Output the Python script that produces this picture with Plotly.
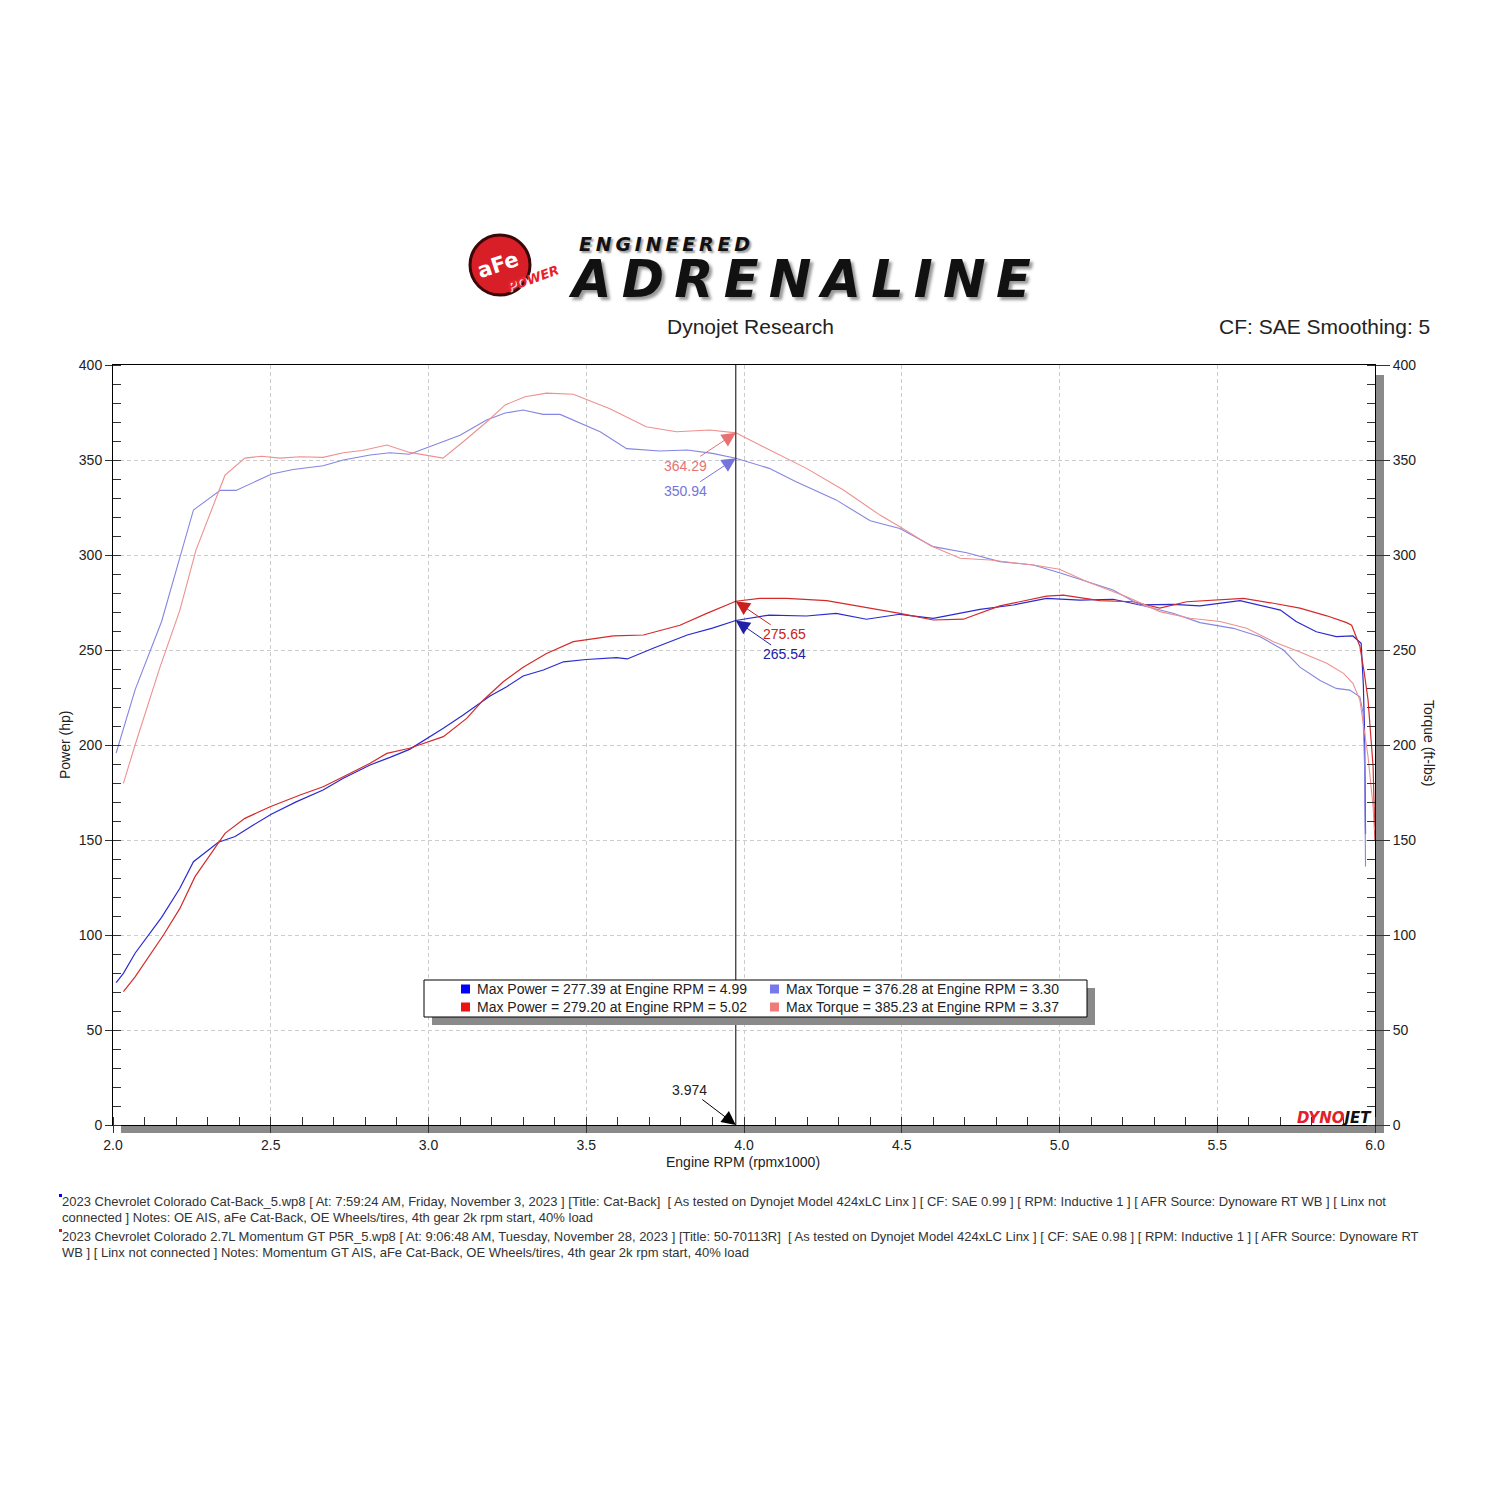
import plotly.graph_objects as go

# ---------- data ----------
# run 1 : Cat-Back (blue)
catback_power_rpm = [2.01, 2.033, 2.07, 2.154, 2.212, 2.255, 2.334, 2.387, 2.445, 2.503, 2.582, 2.666,
                     2.73, 2.815, 2.878, 2.94, 3.047, 3.11, 3.195, 3.248, 3.30, 3.364, 3.428, 3.50,
                     3.596, 3.63, 3.712, 3.82, 3.90, 3.974, 4.08, 4.198, 4.292, 4.388, 4.494, 4.60,
                     4.748, 4.854, 4.959, 5.065, 5.17, 5.255, 5.36, 5.445, 5.572, 5.70, 5.75, 5.814,
                     5.877, 5.93, 5.956, 5.963, 5.967, 5.969, 5.970]
catback_power = [74.9, 79.8, 90.4, 109.3, 124.6, 138.6, 148.8, 151.8, 157.9, 163.7, 170.2, 176.3,
                 182.5, 189.5, 193.5, 197.7, 208.8, 215.8, 225.8, 230.7, 236.3, 239.5, 243.8, 245.0,
                 246.0, 245.3, 250.9, 257.9, 261.5, 265.54, 268.4, 267.9, 269.3, 266.2, 268.8, 266.7,
                 271.4, 273.7, 277.2, 276.3, 276.7, 273.7, 274.0, 273.2, 276.0, 271.0, 265.0, 259.6,
                 257.0, 257.4, 253.5, 232.0, 206.0, 175.0, 153.0]

catback_torque_rpm = [2.01, 2.07, 2.154, 2.255, 2.34, 2.39, 2.503, 2.571, 2.666, 2.73, 2.815, 2.878,
                      2.94, 3.046, 3.10, 3.184, 3.243, 3.30, 3.363, 3.417, 3.544, 3.628, 3.734, 3.82,
                      3.90, 3.974, 4.08, 4.165, 4.292, 4.40, 4.494, 4.60, 4.706, 4.811, 4.917, 5.0,
                      5.086, 5.17, 5.255, 5.36, 5.445, 5.551, 5.636, 5.71, 5.762, 5.826, 5.877, 5.92,
                      5.952, 5.962, 5.967, 5.970]
catback_torque = [195.8, 229.0, 265.0, 323.7, 334.0, 334.0, 342.6, 345.0, 347.0, 350.0, 352.6, 353.8,
                  353.0, 359.6, 363.0, 371.0, 374.7, 376.3, 374.0, 374.0, 364.9, 356.0, 354.7, 355.3,
                  353.5, 350.94, 345.6, 338.6, 329.0, 318.0, 314.0, 304.4, 301.2, 296.5, 294.7, 290.7,
                  286.0, 281.6, 273.7, 269.3, 264.4, 261.4, 257.0, 250.0, 241.0, 234.0, 229.8, 228.9,
                  225.4, 217.0, 188.6, 136.0]

# run 2 : Momentum GT intake (red)
momentum_power_rpm = [2.033, 2.07, 2.16, 2.212, 2.26, 2.355, 2.418, 2.498, 2.593, 2.666, 2.73, 2.815,
                      2.868, 2.94, 3.047, 3.121, 3.174, 3.237, 3.30, 3.374, 3.459, 3.586, 3.681, 3.797,
                      3.882, 3.974, 4.05, 4.135, 4.262, 4.378, 4.494, 4.60, 4.695, 4.811, 4.959, 5.012,
                      5.128, 5.234, 5.318, 5.403, 5.509, 5.583, 5.678, 5.762, 5.847, 5.91, 5.926, 5.952,
                      5.966, 5.978, 5.994, 6.0]
momentum_power = [70.2, 78.0, 100.0, 114.0, 130.7, 153.5, 161.4, 167.5, 173.7, 178.0, 183.3, 190.4,
                  195.6, 198.3, 204.4, 214.0, 223.7, 233.3, 240.9, 248.2, 254.4, 257.4, 257.9, 263.0,
                  269.3, 275.65, 277.2, 277.2, 276.0, 272.8, 269.3, 265.8, 266.2, 273.2, 278.4, 278.9,
                  276.0, 275.4, 272.0, 275.4, 276.3, 277.2, 274.6, 272.0, 268.0, 264.4, 263.0, 252.0,
                  238.0, 223.7, 188.6, 150.0]

momentum_torque_rpm = [2.033, 2.07, 2.149, 2.212, 2.263, 2.355, 2.418, 2.471, 2.53, 2.593, 2.666, 2.73,
                       2.79, 2.868, 2.94, 3.046, 3.11, 3.184, 3.243, 3.306, 3.374, 3.459, 3.575, 3.69,
                       3.786, 3.892, 3.974, 4.093, 4.198, 4.315, 4.431, 4.494, 4.59, 4.685, 4.78, 4.917,
                       5.0, 5.086, 5.213, 5.318, 5.414, 5.509, 5.593, 5.678, 5.762, 5.847, 5.90, 5.93,
                       5.952, 5.978, 5.994, 5.998]
momentum_torque = [179.8, 200.0, 241.0, 271.0, 302.6, 342.0, 351.0, 352.0, 351.0, 351.7, 351.4, 353.8,
                   355.0, 357.9, 354.0, 351.0, 359.6, 370.0, 379.0, 383.3, 385.2, 384.6, 377.0, 367.5,
                   364.9, 365.8, 364.29, 354.4, 345.6, 334.2, 321.0, 314.9, 305.0, 298.3, 297.4, 294.7,
                   292.5, 286.0, 278.0, 270.2, 266.7, 265.0, 261.4, 254.4, 249.0, 243.0, 237.7, 232.5,
                   223.7, 193.8, 167.5, 155.0]

cursor_rpm = 3.974
cursor_values = [364.29, 350.94, 275.65, 265.54]

legend_labels = ["Max Power = 277.39 at Engine RPM = 4.99",
                 "Max Torque = 376.28 at Engine RPM = 3.30",
                 "Max Power = 279.20 at Engine RPM = 5.02",
                 "Max Torque = 385.23 at Engine RPM = 3.37"]

footer_lines = [
    "2023 Chevrolet Colorado Cat-Back_5.wp8 [ At: 7:59:24 AM, Friday, November 3, 2023 ] [Title: Cat-Back]  [ As tested on Dynojet Model 424xLC Linx ] [ CF: SAE 0.99 ] [ RPM: Inductive 1 ] [ AFR Source: Dynoware RT WB ] [ Linx not",
    "connected ] Notes: OE AIS, aFe Cat-Back, OE Wheels/tires, 4th gear 2k rpm start, 40% load",
    "2023 Chevrolet Colorado 2.7L Momentum GT P5R_5.wp8 [ At: 9:06:48 AM, Tuesday, November 28, 2023 ] [Title: 50-70113R]  [ As tested on Dynojet Model 424xLC Linx ] [ CF: SAE 0.98 ] [ RPM: Inductive 1 ] [ AFR Source: Dynoware RT",
    "WB ] [ Linx not connected ] Notes: Momentum GT AIS, aFe Cat-Back, OE Wheels/tires, 4th gear 2k rpm start, 40% load",
]
footer_y = [1201, 1217, 1236, 1252]

BLUE = '#0000ff'
BLUE_L = '#7777ee'
RED = '#ee1111'
RED_L = '#f07a7a'
FONT = 'Liberation Sans, Arial, sans-serif'

# plot box in page pixels; the page body adds an 8px margin, so the figure is pulled back by it
L, R, T, B = 113, 1375, 365, 1125
PAGE_PAD = 8


def px(x):
    return (x - L) / (R - L)


def py(y):
    return (B - y) / (B - T)


def label(x, y, text, size=14, color='#222', xanchor='center', angle=0, family=FONT, **kw):
    return dict(x=px(x), y=py(y), xref='paper', yref='paper', text=text, showarrow=False,
                xanchor=xanchor, yanchor='middle', textangle=angle, borderpad=0,
                font=dict(family=family, size=size, color=color, **kw))


traces = [
    go.Scatter(x=catback_torque_rpm, y=catback_torque, yaxis='y2', mode='lines',
               line=dict(color='#8585e2', width=1.1), hoverinfo='skip'),
    go.Scatter(x=momentum_torque_rpm, y=momentum_torque, yaxis='y2', mode='lines',
               line=dict(color='#ee9090', width=1.1), hoverinfo='skip'),
    go.Scatter(x=catback_power_rpm, y=catback_power, mode='lines',
               line=dict(color='#2a2ad0', width=1.2), hoverinfo='skip'),
    go.Scatter(x=momentum_power_rpm, y=momentum_power, mode='lines',
               line=dict(color='#d42a2a', width=1.2), hoverinfo='skip'),
]

shapes = []
annotations = []

# drop shadows of the plot frame
shapes.append(dict(type='rect', xref='paper', yref='paper', x0=px(1376), x1=px(1384),
                   y0=py(1133), y1=py(375), fillcolor='#8a8a8a', line=dict(width=0), layer='below'))
shapes.append(dict(type='rect', xref='paper', yref='paper', x0=px(121), x1=px(1384),
                   y0=py(1133), y1=py(1126), fillcolor='#8a8a8a', line=dict(width=0), layer='below'))

# cursor line
shapes.append(dict(type='line', xref='x', yref='paper', x0=cursor_rpm, x1=cursor_rpm, y0=0, y1=1,
                   line=dict(color='black', width=1)))

# cursor read-outs
cur_cfg = [(cursor_values[0], 'y2', -50, 33, '#e87272'),
           (cursor_values[1], 'y2', -50, 33, '#7474dc'),
           (cursor_values[2], 'y', 49, 33, '#c82020'),
           (cursor_values[3], 'y', 49, 34, '#2020a8')]
for val, yr, ax, ay, col in cur_cfg:
    annotations.append(dict(x=cursor_rpm, y=val, xref='x', yref=yr, text=f'{val:.2f}',
                            showarrow=True, ax=ax, ay=ay, arrowhead=2, arrowsize=2.8, arrowwidth=1,
                            arrowcolor=col, standoff=0, xanchor='center', yanchor='middle',
                            font=dict(family=FONT, size=14, color=col)))
annotations.append(dict(x=cursor_rpm, y=0, xref='x', yref='y', text=f'{cursor_rpm:.3f}',
                        showarrow=True, ax=-46, ay=-35, arrowhead=2, arrowsize=2.8, arrowwidth=1,
                        arrowcolor='black', standoff=0, xanchor='center', yanchor='middle',
                        font=dict(family=FONT, size=14, color='#222')))

# legend box
shapes.append(dict(type='rect', xref='paper', yref='paper', x0=px(432), x1=px(1095),
                   y0=py(1025), y1=py(988), fillcolor='#8a8a8a', line=dict(width=0)))
shapes.append(dict(type='rect', xref='paper', yref='paper', x0=px(424), x1=px(1087),
                   y0=py(1017), y1=py(980), fillcolor='white', line=dict(color='black', width=1)))
leg_pos = [(461, 989, BLUE), (770, 989, BLUE_L), (461, 1007, RED), (770, 1007, RED_L)]
for (lx, ly, col), lab in zip(leg_pos, legend_labels):
    shapes.append(dict(type='rect', xref='paper', yref='paper', x0=px(lx), x1=px(lx + 9),
                       y0=py(ly + 4.5), y1=py(ly - 4.5), fillcolor=col, line=dict(width=0)))
    annotations.append(label(lx + 15, ly, lab, xanchor='left'))

# header: logo
shapes.append(dict(type='circle', xref='paper', yref='paper', x0=px(470), x1=px(530),
                   y0=py(295), y1=py(235), fillcolor='#d81e26', line=dict(color='#3a0808', width=3)))
annotations.append(label(498, 265, '<b>aFe</b>', size=21, color='white', angle=-18, family='DejaVu Sans'))
annotations.append(label(533, 278, '<b><i>POWER</i></b>', size=13, color='#e8202a', angle=-20,
                         family='DejaVu Sans', shadow='1px 1px 1px #fff'))
annotations.append(label(664, 244, '<b><i>E\u2009N\u2009G\u2009I\u2009N\u2009E\u2009E\u2009R\u2009E\u2009D</i></b>',
                         size=19, color='#111', family='DejaVu Sans', shadow='2px 2px 2px #999'))
annotations.append(label(799, 280, '<b><i>A\u2009D\u2009R\u2009E\u2009N\u2009A\u2009L\u2009I\u2009N\u2009E</i></b>',
                         size=51, color='#111', family='DejaVu Sans', shadow='3px 3px 3px #999'))

annotations.append(label(750, 326, 'Dynojet Research', size=21))
annotations.append(label(1431, 326, 'CF: SAE Smoothing: 5', size=21, xanchor='right'))

# axis titles
annotations.append(label(65, 745, 'Power (hp)', angle=-90))
annotations.append(label(1429, 743, 'Torque (ft-lbs)', angle=90))
annotations.append(label(743, 1162, 'Engine RPM (rpmx1000)'))

# dynojet mark
annotations.append(label(1373, 1118, "<b><i><span style='color:#e3202a'>DYNO</span>JET</i></b>",
                         size=15, color='#111', xanchor='right', family='DejaVu Sans'))

# footer notes
for line, fy in zip(footer_lines, footer_y):
    annotations.append(label(61, fy, line, size=13, color='#333', xanchor='left'))
shapes.append(dict(type='rect', xref='paper', yref='paper', x0=px(59), x1=px(62),
                   y0=py(1197), y1=py(1194), fillcolor=BLUE, line=dict(width=0)))
shapes.append(dict(type='rect', xref='paper', yref='paper', x0=px(59), x1=px(62),
                   y0=py(1232), y1=py(1229), fillcolor=RED, line=dict(width=0)))

grid = dict(showgrid=True, gridcolor='#cccccc', gridwidth=1, griddash='4px,3px')

layout = go.Layout(
    width=1500, height=1500,
    margin=dict(l=L - PAGE_PAD, r=1500 - R + PAGE_PAD, t=T - PAGE_PAD, b=1500 - B + PAGE_PAD),
    paper_bgcolor='white', plot_bgcolor='white',
    showlegend=False,
    font=dict(family=FONT, size=14, color='#222'),
    xaxis=dict(range=[2.0, 6.0], tick0=2.0, dtick=0.5, tickformat='.1f',
               ticks='outside', ticklen=7, tickcolor='#333',
               minor=dict(dtick=0.1, ticks='inside', ticklen=8, tickcolor='#333', showgrid=False),
               showline=True, linecolor='black', linewidth=1, mirror=True, zeroline=False,
               tickfont=dict(family=FONT, size=14, color='#222'), **grid),
    yaxis=dict(range=[0, 400], dtick=50, ticks='outside', ticklen=7, tickcolor='#333',
               minor=dict(dtick=10, ticks='inside', ticklen=8, tickcolor='#333', showgrid=False),
               showline=True, linecolor='black', linewidth=1, zeroline=False,
               tickfont=dict(family=FONT, size=14, color='#222'), **grid),
    yaxis2=dict(range=[0, 400], dtick=50, overlaying='y', side='right',
                ticks='outside', ticklen=14, tickcolor='#333',
                minor=dict(dtick=10, ticks='inside', ticklen=8, tickcolor='#333', showgrid=False),
                showline=True, linecolor='black', linewidth=1, zeroline=False, showgrid=False,
                tickfont=dict(family=FONT, size=14, color='#222')),
    shapes=shapes,
    annotations=annotations,
)

fig = go.Figure(data=traces, layout=layout)
fig.write_html("out.html")
